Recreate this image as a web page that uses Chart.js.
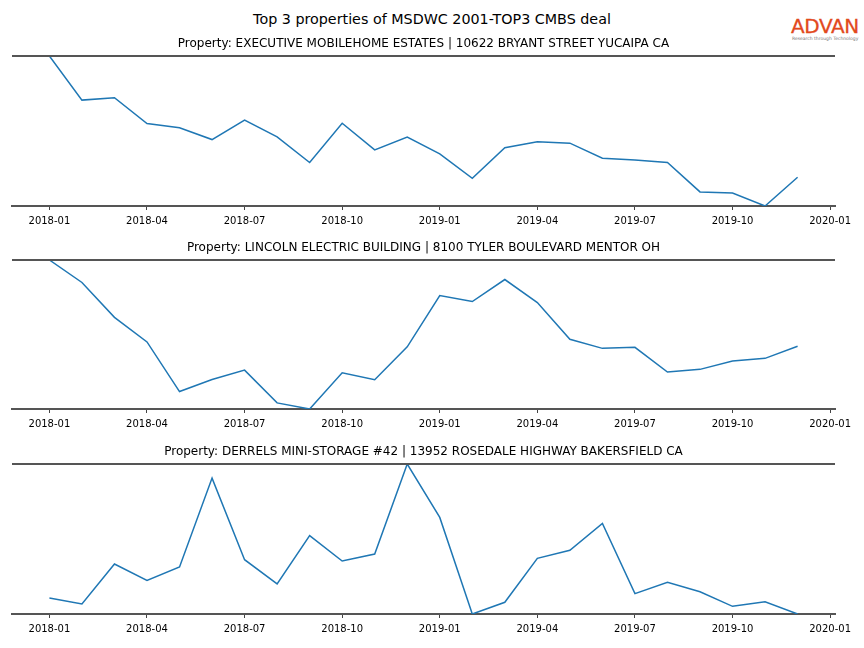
<!DOCTYPE html>
<html>
<head>
<meta charset="utf-8">
<script src="https://cdn.jsdelivr.net/npm/chart.js@4/dist/chart.umd.min.js"></script>
<style>
  body { margin: 0; background: #fff; }
  #wrap { position: relative; width: 864px; height: 648px; font-family: 'DejaVu Sans', sans-serif; }
  canvas { position: absolute; left: 0; }
  #suptitle { position: absolute; top: 11px; left: 0; width: 864px; text-align: center; font-size: 14.3px; color: #000; }
  #logo { position: absolute; top: 14px; left: 791px; color: #e2491d; font-size: 20px; letter-spacing: -0.4px; -webkit-text-stroke: 0.3px #e2491d; }
  #tag { position: absolute; top: 36px; left: 792px; color: #777; font-size: 4.5px; white-space: nowrap; }
</style>
</head>
<body>
<div id="wrap">
  <div id="suptitle">Top 3 properties of MSDWC 2001-TOP3 CMBS deal</div>
  <div id="logo">ADVAN</div>
  <div id="tag">Research through Technology</div>
  <canvas id="c1" width="864" height="204" style="top:30px"></canvas>
  <canvas id="c2" width="864" height="203" style="top:234px"></canvas>
  <canvas id="c3" width="864" height="204" style="top:438px"></canvas>
</div>
<script>
const months = [
  '2018-01', '2018-02', '2018-03', '2018-04', '2018-05', '2018-06',
  '2018-07', '2018-08', '2018-09', '2018-10', '2018-11', '2018-12',
  '2019-01', '2019-02', '2019-03', '2019-04', '2019-05', '2019-06',
  '2019-07', '2019-08', '2019-09', '2019-10', '2019-11', '2019-12'
];

const tickLabels = ['2018-01', '2018-04', '2018-07', '2018-10', '2019-01', '2019-04', '2019-07', '2019-10', '2020-01'];

const titles = [
  'Property: EXECUTIVE MOBILEHOME ESTATES | 10622 BRYANT STREET YUCAIPA CA',
  'Property: LINCOLN ELECTRIC BUILDING | 8100 TYLER BOULEVARD MENTOR OH',
  'Property: DERRELS MINI-STORAGE #42 | 13952 ROSEDALE HIGHWAY BAKERSFIELD CA'
];

const yucaipa = [100, 70.6, 72.2, 55.0, 52.1, 44.3, 57.2, 46.1, 29.0, 55.2, 37.4, 45.9,
  34.7, 18.5, 38.8, 42.8, 41.9, 31.8, 30.7, 29.0, 9.4, 8.7, 0, 19.2];

const mentor = [100, 84.9, 61.5, 45.0, 11.7, 19.8, 26.1, 4.1, 0, 24.3, 19.6, 41.7,
  76.1, 72.1, 86.9, 71.4, 46.8, 40.7, 41.4, 24.8, 26.6, 32.2, 34.0, 42.1];

const bakersfield = [10.7, 6.7, 33.3, 22.4, 31.3, 90.6, 36.2, 20.1, 52.3, 35.3, 40.0, 100,
  64.4, 0, 7.8, 37.1, 42.5, 60.4, 13.6, 21.2, 14.8, 5.1, 8.1, 0];

// month string -> months since 2018-01
function monthIndex(s) {
  const [y, m] = s.split('-').map(Number);
  return (y - 2018) * 12 + (m - 1);
}

const spineColor = '#555555';

// top spine (bottom one is the x axis border)
const topSpine = {
  id: 'topSpine',
  afterDraw(chart) {
    const a = chart.chartArea;
    const ctx = chart.ctx;
    ctx.save();
    ctx.strokeStyle = spineColor;
    ctx.lineWidth = 2;
    ctx.beginPath();
    ctx.moveTo(a.left, a.top);
    ctx.lineTo(a.right, a.top);
    ctx.stroke();
    ctx.restore();
  }
};

Chart.defaults.font.family = "'DejaVu Sans', sans-serif";
Chart.defaults.color = '#000';

function makeChart(id, title, values) {
  const xs = months.map(monthIndex);
  const first = xs[0], last = xs[xs.length - 1];
  const pad = (last - first) * 0.05;
  return new Chart(document.getElementById(id), {
    type: 'line',
    data: {
      datasets: [{
        data: values.map((v, i) => ({ x: xs[i], y: v })),
        borderColor: '#1f77b4',
        borderWidth: 1.5,
        pointRadius: 0,
        tension: 0,
        fill: false
      }]
    },
    options: {
      responsive: false,
      animation: false,
      devicePixelRatio: 1,
      layout: { padding: { left: 12, right: 29, top: 0, bottom: 0 } },
      plugins: {
        legend: { display: false },
        tooltip: { enabled: false },
        title: {
          display: true,
          text: title,
          font: { size: 12, weight: 'normal' },
          padding: { top: 6.5, bottom: 5.1 }
        }
      },
      scales: {
        x: {
          type: 'linear',
          min: first - pad,
          max: last + pad,
          afterBuildTicks(scale) {
            scale.ticks = tickLabels.map(l => ({ value: monthIndex(l) }));
          },
          afterFit(scale) { scale.height = 28; },
          ticks: {
            autoSkip: false,
            maxRotation: 0,
            padding: 5,
            font: { size: 10 },
            callback(value) {
              const l = tickLabels.find(t => monthIndex(t) === value);
              return l || '';
            }
          },
          grid: {
            display: true,
            drawOnChartArea: false,
            drawTicks: true,
            tickLength: 4,
            tickColor: '#444',
            tickWidth: 1
          },
          border: { display: true, color: spineColor, width: 2 }
        },
        y: {
          display: false,
          min: Math.min(...values),
          max: Math.max(...values)
        }
      }
    },
    plugins: [topSpine]
  });
}

makeChart('c1', titles[0], yucaipa);
makeChart('c2', titles[1], mentor);
makeChart('c3', titles[2], bakersfield);
</script>
</body>
</html>
